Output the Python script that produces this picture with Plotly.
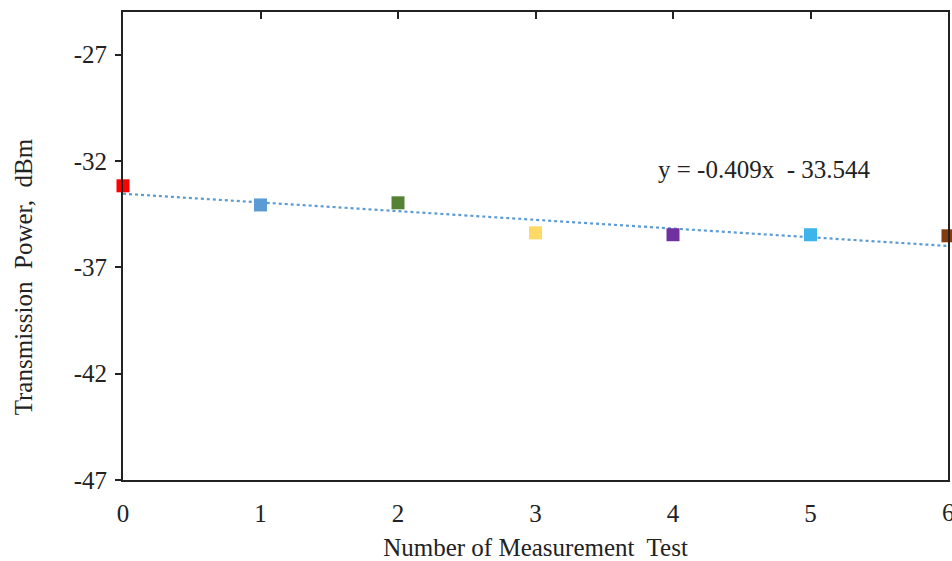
import plotly.graph_objects as go

tests = [0, 1, 2, 3, 4, 5, 6]
power_dbm = [-33.17, -34.07, -33.97, -35.38, -35.47, -35.47, -35.52]
colors = ["#FF0000", "#5B9BD5", "#548235", "#FFD966", "#7030A0", "#3DB5EA", "#843C0C"]
trend_slope = -0.409
trend_intercept = -33.544
y_ticks = [-47, -42, -37, -32, -27]
y_tick_text = ["-47", "-42", "-37", "-32", "-27"]
x_ticks = [0, 1, 2, 3, 4, 5, 6]
x_tick_text = ["0", "1", "2", "3", "4", "5", "6"]

font_family = "Liberation Serif, Times New Roman, serif"
text_color = "#222222"

trend_x = [min(tests), max(tests)]
trend_y = [trend_slope * v + trend_intercept for v in trend_x]

fig = go.Figure()
fig.add_trace(go.Scatter(
    x=trend_x, y=trend_y, mode="lines",
    line=dict(color="#5B9BD5", width=2.2, dash="dot"),
    showlegend=False, hoverinfo="skip", cliponaxis=False,
))
fig.add_trace(go.Scatter(
    x=tests, y=power_dbm, mode="markers",
    marker=dict(symbol="square", size=13, color=colors, line=dict(width=0)),
    showlegend=False, cliponaxis=False,
))
# invisible trace on top axis to show mirrored inside ticks
fig.add_trace(go.Scatter(x=tests, y=power_dbm, xaxis="x2", mode="markers",
                         marker=dict(opacity=0), showlegend=False, hoverinfo="skip"))

fig.add_annotation(
    x=3.875, y=-32.42, xref="x", yref="y", xanchor="left", yanchor="middle",
    text="y = -0.409x\u00a0 - 33.544", showarrow=False,
    font=dict(family=font_family, size=25, color=text_color),
)

# last x tick label (partly cut at the page edge, as in the reference)
fig.add_annotation(
    x=x_ticks[-1], y=0, xref="x", yref="paper", xanchor="center", yanchor="top",
    yshift=-17, text=x_tick_text[-1], showarrow=False,
    font=dict(family=font_family, size=25, color=text_color),
)

# y axis title (placed slightly below centre as in the reference)
fig.add_annotation(
    x=0, y=0.433, xref="paper", yref="paper", xanchor="center", yanchor="middle",
    xshift=-100, textangle=-90, text="Transmission\u00a0 Power,\u00a0 dBm",
    showarrow=False, font=dict(family=font_family, size=25, color=text_color),
)

fig.update_layout(
    width=952, height=561,
    margin=dict(l=123, r=2, t=12, b=80),
    paper_bgcolor="white", plot_bgcolor="white",
    font=dict(family=font_family, size=25, color=text_color),
    xaxis=dict(
        range=[0, 6], tickvals=x_ticks[:-1], ticktext=x_tick_text[:-1], ticks="",
        showgrid=False, zeroline=False,
        showline=True, linecolor=text_color, linewidth=2,
        title=dict(text="Number of Measurement\u00a0 Test", standoff=14,
                   font=dict(family=font_family, size=25)),
        tickfont=dict(family=font_family, size=25),
        ticklabelstandoff=10,
    ),
    xaxis2=dict(
        range=[0, 6], overlaying="x", side="top", tickvals=x_ticks,
        ticks="inside", ticklen=7, tickwidth=2, tickcolor=text_color,
        showticklabels=False, showgrid=False, zeroline=False,
        showline=True, linecolor=text_color, linewidth=2,
    ),
    yaxis=dict(
        range=[-47, -25], tickvals=y_ticks, ticktext=y_tick_text,
        ticks="outside", ticklen=6, tickwidth=2,
        tickcolor=text_color, showgrid=False, zeroline=False,
        showline=True, linecolor=text_color, linewidth=2, mirror=True,
        tickfont=dict(family=font_family, size=25),
        ticklabelstandoff=3,
    ),
)

fig.write_html("out.html")
